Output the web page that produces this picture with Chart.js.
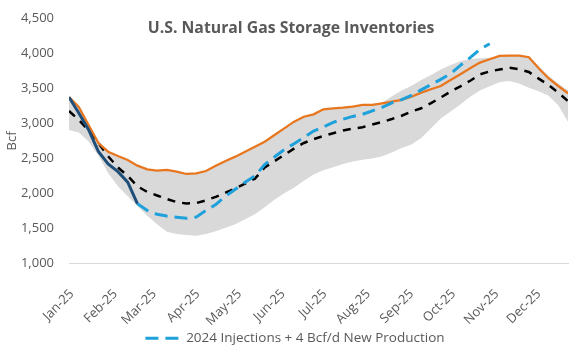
<!DOCTYPE html>
<html><head><meta charset="utf-8">
<script src="https://cdn.jsdelivr.net/npm/chart.js@4.4.0/dist/chart.umd.min.js"></script>
<style>html,body{margin:0;padding:0;background:#fff;}#wrap{width:580px;height:355px;}</style>
</head><body><div id="wrap"><canvas id="c" width="580" height="355"></canvas></div>
<script>
// Days since first weekly report (Jan 3, 2025)
const weekDays = [0,7,14,21,28,35,42,49,56,63,70,77,84,91,98,105,112,119,126,133,140,147,154,161,168,175,182,189,196,203,210,217,224,231,238,245,252,259,266,273,280,287,294,301,308,315,322,329,336,343,350,357];
const monthTicks = [0,31,59,90,120,151,181,212,243,273,304,334];
const monthLabels = ['Jan-25','Feb-25','Mar-25','Apr-25','May-25','Jun-25','Jul-25','Aug-25','Sep-25','Oct-25','Nov-25','Dec-25'];
const yTicks = [1000,1500,2000,2500,3000,3500,4000,4500];

const bandMax = [3380,3240,3000,2760,2600,2534,2477,2396,2344,2324,2334,2310,2277,2287,2320,2396,2463,2525,2596,2668,2739,2835,2930,3025,3096,3130,3202,3216,3225,3240,3264,3275,3300,3390,3470,3540,3620,3693,3770,3836,3890,3920,3930,3940,3964,3975,3975,3960,3820,3680,3570,3470];
const bandMin = [2906,2870,2740,2540,2290,2100,1960,1820,1680,1560,1450,1420,1405,1395,1420,1460,1510,1560,1630,1700,1800,1910,2000,2080,2180,2270,2330,2375,2420,2455,2480,2500,2530,2585,2650,2700,2790,2930,3070,3170,3270,3380,3470,3530,3590,3605,3570,3510,3460,3400,3260,3025];
const fiveYearAvg = [3178,3050,2900,2720,2530,2370,2250,2100,2020,1970,1920,1875,1855,1860,1900,1950,2010,2070,2140,2210,2370,2460,2550,2640,2720,2775,2820,2860,2900,2925,2945,2985,3020,3063,3110,3170,3216,3290,3370,3455,3530,3610,3700,3745,3770,3795,3775,3735,3640,3550,3440,3320];
const lastYear = [3378,3235,2978,2720,2596,2534,2477,2396,2344,2324,2334,2310,2277,2287,2320,2396,2463,2525,2596,2668,2739,2835,2930,3025,3096,3130,3202,3216,3225,3240,3264,3264,3288,3311,3335,3382,3440,3488,3535,3621,3703,3789,3869,3917,3964,3969,3969,3946,3789,3646,3535,3431];
const actual2025 = [3375,3150,2910,2600,2420,2310,2160,1850];
const projection = [null,null,null,null,null,null,null,1850,1755,1700,1675,1660,1643,1660,1755,1840,1960,2060,2160,2250,2410,2520,2625,2710,2800,2890,2950,3015,3060,3100,3130,3180,3230,3295,3340,3400,3480,3555,3630,3710,3830,3940,4060,4140];

const pts = arr => arr.map((v,i)=>({x:weekDays[i], y:v})).filter(p=>p.y!==null);
const gray = '#595959';
const fontFam = "'Open Sans', sans-serif";

const shiftBoxes = {id:'shiftBoxes', afterLayout(chart){
  if(chart.legend){ chart.legend.left += 11; chart.legend.right += 11; }
  if(chart.titleBlock){ chart.titleBlock.left += 7; chart.titleBlock.right += 7; }
}};

new Chart(document.getElementById('c'), {
  type:'line',
  data:{datasets:[
    {label:'2024 Injections + 4 Bcf/d New Production', data:pts(projection), borderColor:'#1EA0DA', borderWidth:3, borderDash:[13,7], pointRadius:0, fill:false, tension:0, order:0},
    {label:'2025', data:pts(actual2025), borderColor:'#1F4E79', borderWidth:3, pointRadius:0, fill:false, order:1},
    {label:'2024', data:pts(lastYear), borderColor:'#E8761E', borderWidth:2.25, pointRadius:0, fill:false, order:2},
    {label:'5-Year Average', data:pts(fiveYearAvg), borderColor:'#000000', borderWidth:2.5, borderDash:[8,7], pointRadius:0, fill:false, order:3},
    {label:'5-Year Max', data:pts(bandMax), borderWidth:0, borderColor:'rgba(0,0,0,0)', backgroundColor:'#D9D9D9', pointRadius:0, fill:'+1', order:4},
    {label:'5-Year Min', data:pts(bandMin), borderWidth:0, borderColor:'rgba(0,0,0,0)', pointRadius:0, fill:false, order:5}
  ]},
  plugins:[shiftBoxes],
  options:{
    responsive:false, animation:false, devicePixelRatio:1,
    layout:{padding:{top:0,left:0,right:12,bottom:0}},
    plugins:{
      title:{display:true, text:'U.S. Natural Gas Storage Inventories', color:gray, font:{family:fontFam, size:15.8, weight:'bold'}, padding:{top:19.5, bottom:-19.96}},
      legend:{position:'bottom', labels:{
        filter:it=>it.datasetIndex===0, usePointStyle:true, pointStyle:'line', pointStyleWidth:34, boxHeight:13, color:gray, font:{family:fontFam, size:13.5}, padding:0,
        generateLabels:(chart)=>{ const items = Chart.defaults.plugins.legend.labels.generateLabels(chart); items.forEach(it=>{ const ds = chart.data.datasets[it.datasetIndex]; it.lineDash = ds.borderDash || []; it.lineWidth = ds.borderWidth; it.strokeStyle = ds.borderColor; }); return items; }
      }},
      tooltip:{enabled:false}
    },
    scales:{
      x:{type:'linear', min:0, max:357,
        afterBuildTicks:s=>{s.ticks = monthTicks.map(v=>({value:v}));},
        ticks:{autoSkip:false, maxRotation:45, minRotation:45, color:gray, font:{family:fontFam, size:13}, padding:15, labelOffset:3,
          callback:(v)=>monthLabels[monthTicks.indexOf(v)]},
        grid:{display:false}, border:{display:true, color:'#D9D9D9', width:1},
        afterFit:s=>{s.height=68.2;}
      },
      y:{min:1000, max:4500,
        afterBuildTicks:s=>{s.ticks = yTicks.map(v=>({value:v}));},
        ticks:{color:gray, font:{family:fontFam, size:13}, padding:0, callback:v=>v.toLocaleString('en-US')},
        grid:{display:true, drawOnChartArea:false, drawTicks:true, tickLength:15, color:'rgba(0,0,0,0)'}, border:{display:false},
        title:{display:true, text:'Bcf', color:gray, font:{family:fontFam, size:13}, padding:{top:4, bottom:0}},
        afterFit:s=>{s.width=69;}
      }
    }
  }
});
</script></body></html>
